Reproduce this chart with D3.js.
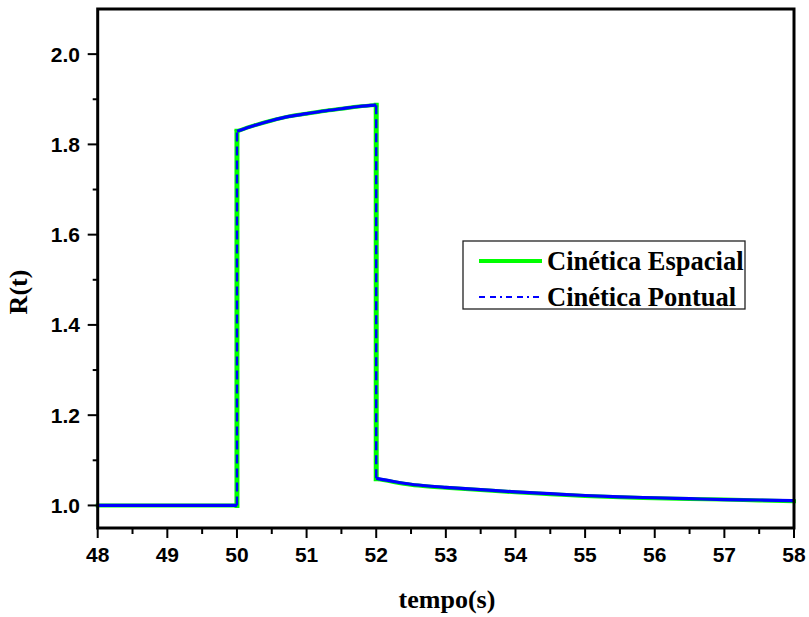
<!DOCTYPE html>
<html><head><meta charset="utf-8">
<script src="https://cdn.jsdelivr.net/npm/d3@7"></script>
<style>body{margin:0;background:#fff}svg{display:block}</style>
</head><body>
<svg id="c" width="809" height="617"></svg>
<script>
const timeS = [48, 50, 50, 50.25, 50.5, 50.75, 51, 51.25, 51.5, 51.75, 52, 52, 52.25, 52.5, 52.75, 53, 53.5, 54, 54.5, 55, 55.5, 56, 56.5, 57, 57.5, 58];
const rSpatial = [1, 1, 1.829, 1.842, 1.853, 1.862, 1.868, 1.874, 1.879, 1.884, 1.887, 1.059, 1.052, 1.046, 1.042, 1.039, 1.034, 1.029, 1.025, 1.021, 1.018, 1.016, 1.014, 1.013, 1.011, 1.0095];
const rPoint   = [1, 1, 1.829, 1.842, 1.853, 1.862, 1.868, 1.874, 1.879, 1.884, 1.887, 1.060, 1.053, 1.047, 1.043, 1.040, 1.035, 1.030, 1.026, 1.022, 1.019, 1.017, 1.015, 1.013, 1.012, 1.0105];
const xTicks = [48, 49, 50, 51, 52, 53, 54, 55, 56, 57, 58];
const yTicks = [1.0, 1.2, 1.4, 1.6, 1.8, 2.0];
const seriesNames = ["Cinética Espacial", "Cinética Pontual"];

const svg = d3.select("#c");
const L = 97.7, R = 794, T = 9, B = 528;
const x = d3.scaleLinear().domain([48, 58]).range([L, R]);
const y = d3.scaleLinear().domain([0.95, 2.1]).range([B, T]);

function runs(ts, vs) {
  const pts = ts.map((t, i) => [t, vs[i]]);
  const out = [];
  let cur = [pts[0]];
  for (let i = 1; i < pts.length; i++) {
    const jump = pts[i][0] === pts[i - 1][0];
    if (jump) {
      out.push({ jump: false, pts: cur });
      out.push({ jump: true, pts: [pts[i - 1], pts[i]] });
      cur = [pts[i]];
    } else cur.push(pts[i]);
  }
  out.push({ jump: false, pts: cur });
  return out.filter(r => r.pts.length > 1);
}
const lineSmooth = d3.line().x(d => x(d[0])).y(d => y(d[1])).curve(d3.curveMonotoneX);
const lineLin = d3.line().x(d => x(d[0])).y(d => y(d[1]));

const g = svg.append("g");
runs(timeS, rSpatial).forEach(r => {
  g.append("path").attr("d", r.jump ? lineLin(r.pts) : lineSmooth(r.pts))
    .attr("fill", "none").attr("stroke", "#00ff00").attr("stroke-width", r.jump ? 5 : 4)
    .attr("stroke-linecap", "square");
});
runs(timeS, rPoint).forEach(r => {
  g.append("path").attr("d", r.jump ? lineLin(r.pts) : lineSmooth(r.pts))
    .attr("fill", "none").attr("stroke", "#0000ff").attr("stroke-width", r.jump ? 2.4 : 3.2)
    .attr("stroke-dasharray", r.jump ? "9,5" : null);
});

svg.append("rect").attr("x", L).attr("y", T).attr("width", R - L).attr("height", B - T)
  .attr("fill", "none").attr("stroke", "#000").attr("stroke-width", 3);

const minorX = d3.range(48.5, 58, 1);
svg.selectAll(".xt").data(xTicks).enter().append("line")
  .attr("x1", d => x(d)).attr("x2", d => x(d)).attr("y1", B).attr("y2", B + 10)
  .attr("stroke", "#000").attr("stroke-width", 2);
svg.selectAll(".xm").data(minorX).enter().append("line")
  .attr("x1", d => x(d)).attr("x2", d => x(d)).attr("y1", B).attr("y2", B + 6)
  .attr("stroke", "#000").attr("stroke-width", 2);
svg.selectAll(".xl").data(xTicks).enter().append("text")
  .attr("x", d => x(d)).attr("y", 562).attr("text-anchor", "middle")
  .attr("font-family", "Liberation Sans, Arial, sans-serif").attr("font-weight", "bold")
  .attr("font-size", 21).text(d => d);

const minorY = [1.1, 1.3, 1.5, 1.7, 1.9];
svg.selectAll(".yt").data(yTicks).enter().append("line")
  .attr("y1", d => y(d)).attr("y2", d => y(d)).attr("x1", L).attr("x2", L - 10)
  .attr("stroke", "#000").attr("stroke-width", 2);
svg.selectAll(".ym").data(minorY).enter().append("line")
  .attr("y1", d => y(d)).attr("y2", d => y(d)).attr("x1", L).attr("x2", L - 5)
  .attr("stroke", "#000").attr("stroke-width", 2);
svg.selectAll(".yl").data(yTicks).enter().append("text")
  .attr("x", 80).attr("y", d => y(d) + 7.5).attr("text-anchor", "end")
  .attr("font-family", "Liberation Sans, Arial, sans-serif").attr("font-weight", "bold")
  .attr("font-size", 21).text(d => d.toFixed(1));

svg.append("text").attr("x", 447).attr("y", 608).attr("text-anchor", "middle")
  .attr("font-family", "Liberation Serif, Times New Roman, serif").attr("font-weight", "bold")
  .attr("font-size", 26).text("tempo(s)");
svg.append("text").attr("transform", "translate(27,292) rotate(-90)").attr("text-anchor", "middle")
  .attr("font-family", "Liberation Serif, Times New Roman, serif").attr("font-weight", "bold")
  .attr("font-size", 26).text("R(t)");

const lg = svg.append("g");
lg.append("rect").attr("x", 463).attr("y", 241).attr("width", 282).attr("height", 68)
  .attr("fill", "#fff").attr("stroke", "#222").attr("stroke-width", 1.3);
const legY = [261, 297];
lg.append("line").attr("x1", 479).attr("x2", 542).attr("y1", legY[0]).attr("y2", legY[0])
  .attr("stroke", "#00ff00").attr("stroke-width", 4);
lg.append("line").attr("x1", 479).attr("x2", 542).attr("y1", legY[1]).attr("y2", legY[1])
  .attr("stroke", "#0000ff").attr("stroke-width", 2).attr("stroke-dasharray", "6,5,6,4,2,4");
lg.selectAll(".lt").data(seriesNames).enter().append("text")
  .attr("x", 547).attr("y", (d, i) => legY[i] + 9)
  .attr("font-family", "Liberation Serif, Times New Roman, serif").attr("font-weight", "bold")
  .attr("font-size", 26.5).text(d => d);
</script>
</body></html>
